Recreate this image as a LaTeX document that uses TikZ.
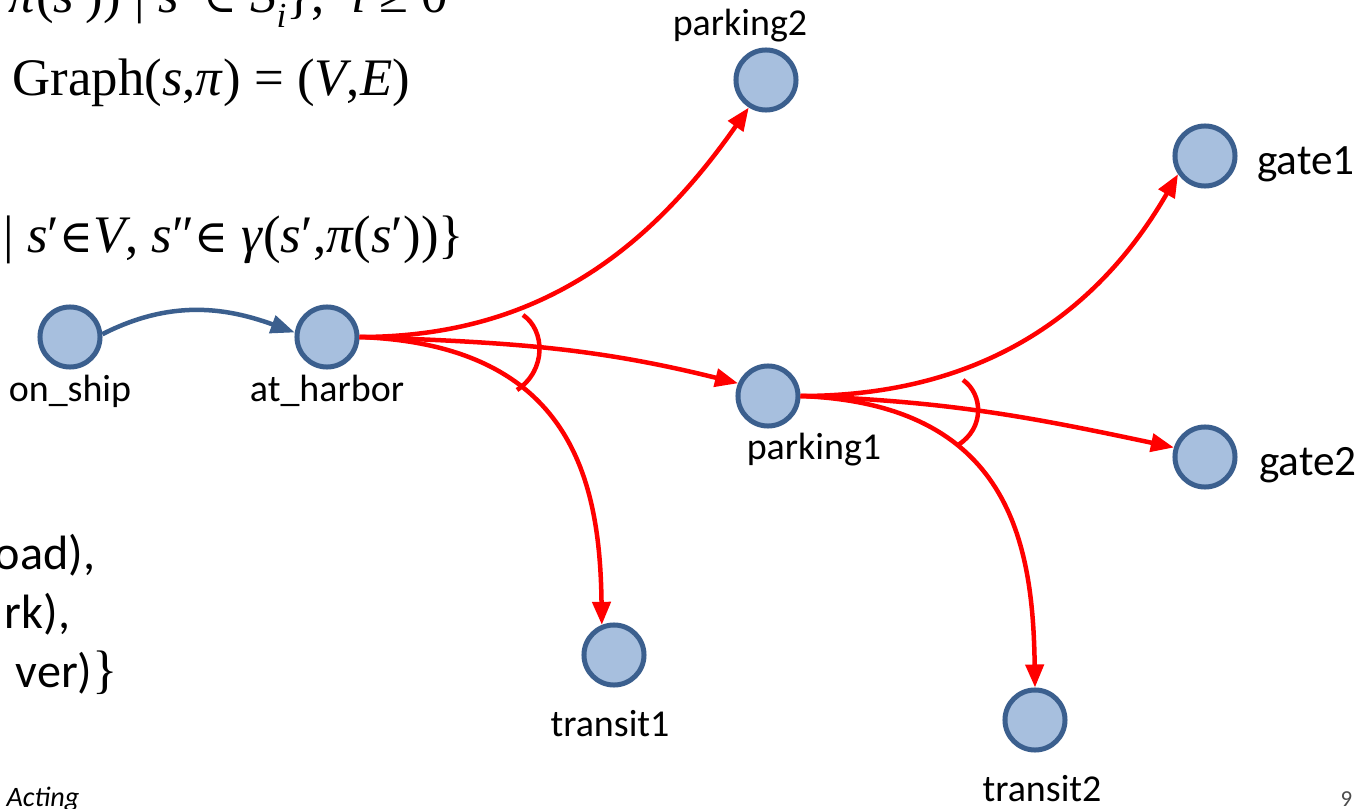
\documentclass[tikz,border=0pt]{standalone}
\usepackage{fontspec}
\setmainfont{Carlito}
\newfontfamily\timesf{Liberation Serif}
\newfontfamily\symf{DejaVu Serif}
\usepackage{tikz}
\usetikzlibrary{arrows.meta,positioning}
\definecolor{StateFill}{HTML}{A7BFDE}
\definecolor{StateLine}{HTML}{3B5F8E}
\definecolor{PlanRed}{HTML}{FF0000}
\newcommand{\elt}{{\symf\fontsize{13}{15}\selectfont ∈}}

\begin{document}
\begin{tikzpicture}[
  x=0.01cm,y=-0.01cm,
  state/.style={circle,draw=StateLine,fill=StateFill,line width=0.05cm,
                minimum size=0.6cm,inner sep=0pt},
  lbl/.style={inner sep=0pt,font=\fontsize{10.8}{12}\selectfont},
  biglbl/.style={inner sep=0pt,font=\fontsize{12.3}{14}\selectfont},
  plan/.style={-{Triangle[length=2.3mm,width=1.8mm]},line width=0.045cm,PlanRed},
  move/.style={-{Triangle[length=2.4mm,width=1.8mm]},line width=0.045cm,StateLine},
  andarc/.style={line width=0.045cm,PlanRed},
  formula/.style={anchor=base west,inner sep=0pt,font=\timesf\fontsize{15}{18}\selectfont},
  frag/.style={anchor=base west,inner sep=0pt,font=\fontsize{13.7}{16}\selectfont}
]
\clip (0,0) rectangle (1359,809);
\fill[white] (0,0) rectangle (1359,809);
\node[formula] (policy) at (8,12)
{\textit{π}(\textit{s}′)) | \textit{s}′ \elt{} \textit{S}\raisebox{-0.3em}{\fontsize{10}{12}\selectfont\textit{i}}\}, \ \textit{i} ≥ 0};
\node[formula] (graphdef) at (12,95)
{Graph(\textit{s},\textit{π}) = (\textit{V},\textit{E})};
\node[formula] (edgeset) at (3,252)
{| \textit{s}′\elt\textit{V}, \textit{s}″\elt{} \textit{γ}(\textit{s}′,\textit{π}(\textit{s}′))\}};
\node[frag] (frag1) at (-6,570) {oad),};
\node[frag] (frag2) at (4,629) {rk),};
\node[frag] (frag3) at (15,688) {ver){\timesf\fontsize{15}{18}\selectfont\}}};
\node[anchor=base west,inner sep=0pt,font=\fontsize{8}{9}\selectfont\itshape] (footer) at (6,806) {Acting};
\node[anchor=base west,inner sep=0pt,font=\fontsize{6.5}{8}\selectfont,text=black!70] (pagenum) at (1340,806) {9};
\node[state] (onship) at (70,337) {};
\node[state] (harbor) at (327,337) {};
\node[state] (park2) at (766,80) {};
\node[state] (park1) at (768,396) {};
\node[state] (trans1) at (614,655) {};
\node[state] (gate1) at (1205,156) {};
\node[state] (gate2) at (1205,457) {};
\node[state] (trans2) at (1035,720) {};
\node[lbl,below=0.05cm of onship] (onshipL) {on\_ship};
\node[lbl,below=0.05cm of harbor] (harborL) {at\_harbor};
\node[lbl,above=0.05cm of park2,xshift=-0.26cm] (park2L) {parking2};
\node[lbl,below=0.04cm of park1,xshift=0.46cm] (park1L) {parking1};
\node[biglbl,right=0.19cm of gate1,yshift=-0.085cm] (gate1L) {gate1};
\node[biglbl,right=0.21cm of gate2,yshift=-0.085cm] (gate2L) {gate2};
\node[lbl,below=0.22cm of trans1,xshift=-0.04cm] (trans1L) {transit1};
\node[lbl,below=0.22cm of trans2,xshift=0.07cm] (trans2L) {transit2};
\draw[move] (onship.5) to[out=27,in=160] (harbor.172);
\draw[plan] (harbor.east) to[out=0,in=-125] (park2.-122);
\draw[plan] (harbor.east) to[out=-2,in=166] (park1.157);
\draw[plan] (harbor.east) .. controls (572,345) and (600,481) .. (trans1.112);
\draw[plan] (park1.east) to[out=0,in=-120] (gate1.-146);
\draw[plan] (park1.east) to[out=-2,in=168] (gate2.163);
\draw[plan] (park1.east) .. controls (1010,404) and (1033,543) .. (trans2.90);
\draw[andarc] (523,315) .. controls (545,330) and (547,370) .. (517,390);
\draw[andarc] (963,380) .. controls (983,394) and (985,428) .. (958,445);
\end{tikzpicture}
\end{document}
